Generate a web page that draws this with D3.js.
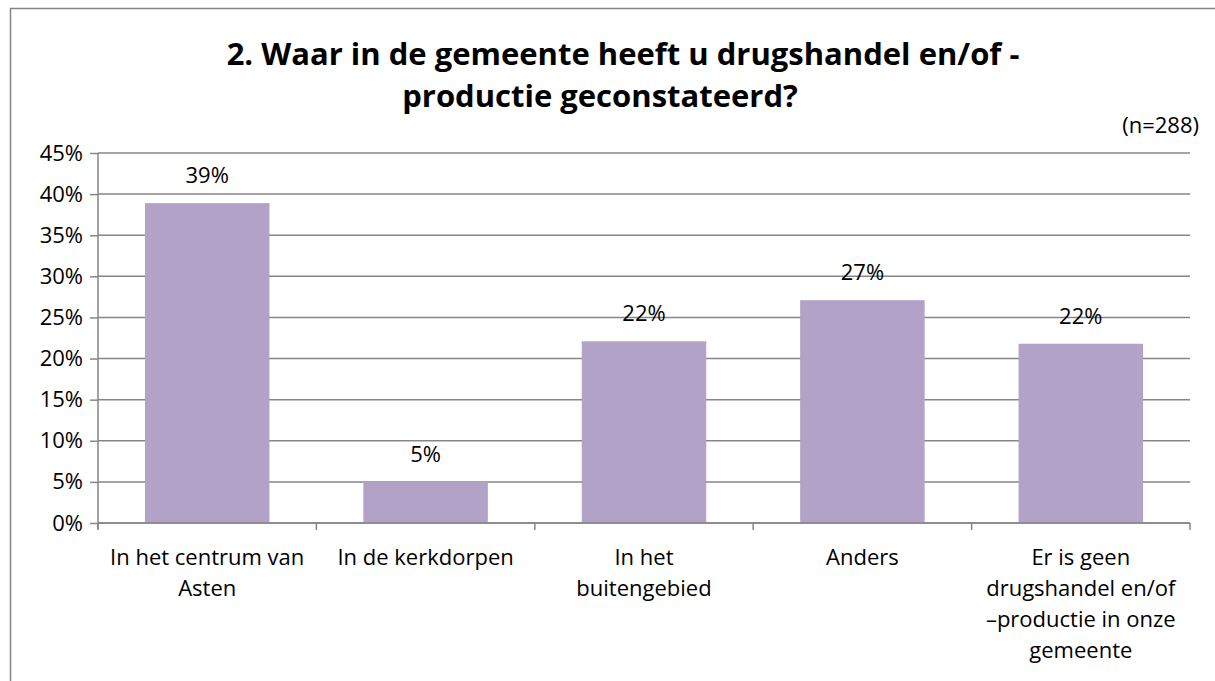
<!DOCTYPE html>
<html>
<head>
<meta charset="utf-8">
<title>Drugshandel</title>
<script src="https://d3js.org/d3.v7.min.js"></script>
<style>
  body { margin: 0; background: #fff; }
  text { font-family: "Open Sans", Lato, sans-serif; fill: #000; }
</style>
</head>
<body>
<script>
// data
var categories = [
  "In het centrum van|Asten",
  "In de kerkdorpen",
  "In het|buitengebied",
  "Anders",
  "Er is geen|drugshandel en/of|\u2013productie in onze|gemeente"
];
var values = [38.9, 5.0, 22.1, 27.1, 21.8];
var valueLabels = ["39%", "5%", "22%", "27%", "22%"];
var yTicks = [0, 5, 10, 15, 20, 25, 30, 35, 40, 45];
var titleLines = ["2. Waar in de gemeente heeft u drugshandel en/of -", "productie geconstateerd?"];
var note = "(n=288)";

var W = 1215, H = 681;
var margin = {top: 153, right: 25, bottom: 158, left: 98};
var width = W - margin.left - margin.right,
    height = H - margin.top - margin.bottom;
var fs = "22px";

var svg = d3.select("body").append("svg")
  .attr("width", W)
  .attr("height", H);

// outer chart border
svg.append("rect")
  .attr("x", 10.5).attr("y", 8.5)
  .attr("width", W + 20).attr("height", H + 20)
  .attr("fill", "none")
  .attr("stroke", "#868686")
  .attr("stroke-width", 1.5);

// title (second line sits a little left of the first, as in the original)
var titleX = [623, 600];
svg.selectAll(".title")
  .data(titleLines)
  .enter().append("text")
  .attr("text-anchor", "middle")
  .style("font-weight", "bold")
  .style("font-size", "31px")
  .attr("x", function(d, i) { return titleX[i]; })
  .attr("y", function(d, i) { return 65 + i * 42; })
  .text(function(d) { return d; });

svg.append("text")
  .attr("x", 1199).attr("y", 133)
  .attr("text-anchor", "end")
  .style("font-size", fs)
  .text(note);

var g = svg.append("g")
  .attr("transform", "translate(" + margin.left + "," + margin.top + ")");

var x = d3.scaleBand()
  .domain(categories)
  .range([0, width])
  .paddingInner(0.43)
  .paddingOuter(0.215);

var y = d3.scaleLinear()
  .domain([0, 45])
  .range([height, 0]);

// gridlines
g.selectAll(".grid")
  .data(yTicks)
  .enter().append("line")
  .attr("x1", 0).attr("x2", width)
  .attr("y1", function(d) { return y(d); })
  .attr("y2", function(d) { return y(d); })
  .attr("stroke", "#868686")
  .attr("stroke-width", 1.5);

// bars
g.selectAll(".bar")
  .data(values)
  .enter().append("rect")
  .attr("x", function(d, i) { return x(categories[i]); })
  .attr("width", x.bandwidth())
  .attr("y", function(d) { return y(d); })
  .attr("height", function(d) { return height - y(d); })
  .attr("fill", "#b2a2c7");

// value labels
g.selectAll(".lbl")
  .data(values)
  .enter().append("text")
  .attr("x", function(d, i) { return x(categories[i]) + x.bandwidth() / 2; })
  .attr("y", function(d) { return y(d) - 20; })
  .attr("text-anchor", "middle")
  .style("font-size", fs)
  .text(function(d, i) { return valueLabels[i]; });

// y axis
var yAxis = g.append("g")
  .call(d3.axisLeft(y).tickValues(yTicks).tickSize(8).tickPadding(7)
    .tickFormat(function(d) { return d + "%"; }));
yAxis.selectAll("line, path").attr("stroke", "#868686").attr("stroke-width", 1.5);
yAxis.select(".domain").attr("d", "M0," + (height + 6) + "V0");
yAxis.selectAll("text").style("font-size", fs).style("font-family", "'Open Sans', sans-serif").attr("fill", "#000");

// x axis with ticks at category boundaries
var bounds = d3.range(categories.length + 1).map(function(i) { return i * width / categories.length; });
var xAxisG = g.append("g").attr("transform", "translate(0," + height + ")");
xAxisG.append("line")
  .attr("x1", 0).attr("x2", width)
  .attr("stroke", "#868686").attr("stroke-width", 1.5);
xAxisG.selectAll(".tk")
  .data(bounds)
  .enter().append("line")
  .attr("x1", function(d) { return d; })
  .attr("x2", function(d) { return d; })
  .attr("y1", 0).attr("y2", 7)
  .attr("stroke", "#868686").attr("stroke-width", 1.5);

xAxisG.selectAll(".cat")
  .data(categories)
  .enter().append("text")
  .attr("text-anchor", "middle")
  .style("font-size", fs)
  .each(function(d) {
    var t = d3.select(this);
    d.split("|").forEach(function(line, i) {
      t.append("tspan")
        .attr("x", x(d) + x.bandwidth() / 2)
        .attr("y", 42 + i * 31)
        .text(line);
    });
  });
</script>
</body>
</html>
